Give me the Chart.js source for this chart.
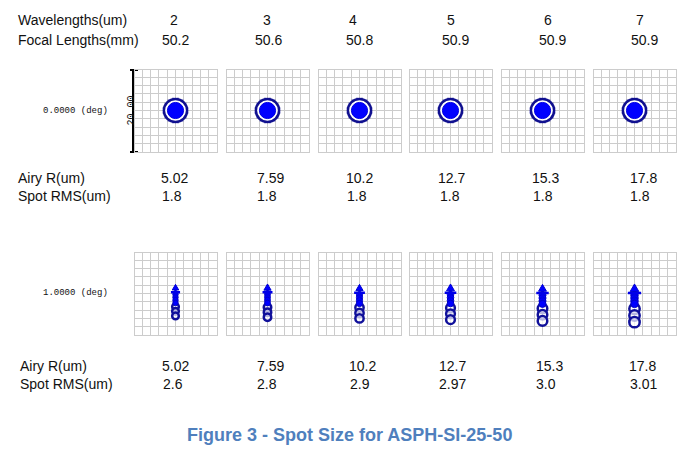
<!DOCTYPE html>
<html>
<head>
<meta charset="utf-8">
<script src="https://cdn.jsdelivr.net/npm/chart.js@4"></script>
<style>
  body { margin: 0; background: #fff; }
  #page { position: relative; width: 686px; height: 452px; overflow: hidden;
          font-family: "Liberation Sans", Arial, sans-serif; font-size: 14px; color: #111; }
  .t { position: absolute; white-space: nowrap; line-height: 14px; }
  .mono { font-family: "Liberation Mono", "DejaVu Sans Mono", monospace; font-size: 9px; color: #111; line-height: 9px; }
  canvas.spot { position: absolute; }
  #bar { position: absolute; left: 132px; top: 69px; width: 0; height: 84px; border-left: 2px solid #000; }
  #bar:before, #bar:after { content: ""; position: absolute; left: -4px; width: 8px; border-top: 2px solid #000; }
  #bar:before { top: 0; }
  #bar:after { bottom: 0; }
  #title { position: absolute; left: 187px; top: 425px; white-space: nowrap;
           font-weight: bold; font-size: 18px; color: #4f7fbd; }
</style>
</head>
<body>
<div id="page"></div>
<script>
//////////////////////////// data ////////////////////////////
const wavelengths = ['2', '3', '4', '5', '6', '7'];
const focalLengths = ['50.2', '50.6', '50.8', '50.9', '50.9', '50.9'];
const airyRadius = ['5.02', '7.59', '10.2', '12.7', '15.3', '17.8'];
const spotRmsOnAxis = ['1.8', '1.8', '1.8', '1.8', '1.8', '1.8'];
const spotRmsOffAxis = ['2.6', '2.8', '2.9', '2.97', '3.0', '3.01'];
const fieldAngles = ['0.0000 (deg)', '1.0000 (deg)'];
const boxSize = '20.00'; // um, full width of each spot box

// on-axis spot: core radius and outer ring radius (um)
const onAxisCore = [1.95, 1.95, 1.95, 1.95, 1.95, 1.95];
const onAxisRing = [2.8, 2.8, 2.8, 2.8, 2.8, 2.8];
const onAxisFuzz = [3.15, 3.15, 3.15, 3.15, 3.15, 3.15];

// off-axis spot pieces, [x, y, r] in um
const offAxisHead = [[0, 1.3, 0.9], [0, 1.3, 1.0], [0, 1.2, 1.0], [0, 1.2, 1.1], [0, 1.1, 1.1], [0, 1.1, 1.2]];
const offAxisArms = [[0, 0.3, 1.1], [0, 0.3, 1.2], [0, 0.2, 1.3], [0, 0.2, 1.4], [0, 0.1, 1.5], [0, 0.1, 1.6]];
const offAxisBody = [
  [[0, -0.2, 0.65], [0, -0.9, 0.65], [0, -1.6, 0.65], [0, -2.3, 0.65]],
  [[0, -0.2, 0.7], [0, -0.9, 0.7], [0, -1.6, 0.7], [0, -2.3, 0.7]],
  [[0, -0.3, 0.75], [0, -1.0, 0.75], [0, -1.7, 0.75], [0, -2.4, 0.75]],
  [[0, -0.3, 0.8], [0, -1.0, 0.8], [0, -1.7, 0.8], [0, -2.4, 0.8]],
  [[0, -0.4, 0.85], [0, -1.1, 0.85], [0, -1.8, 0.85], [0, -2.5, 0.85]],
  [[0, -0.4, 0.9], [0, -1.1, 0.9], [0, -1.8, 0.9], [0, -2.5, 0.9]]
];
const offAxisRings = [
  [[0, -3.2, 0.8], [0, -4.3, 0.8], [0, -5.4, 0.8]],
  [[0, -3.3, 0.9], [0, -4.5, 0.9], [0, -5.7, 0.9]],
  [[0, -3.4, 1.0], [0, -4.7, 1.0], [0, -6.0, 1.0]],
  [[0, -3.5, 1.05], [0, -4.9, 1.05], [0, -6.3, 1.05]],
  [[0, -3.6, 1.15], [0, -5.1, 1.15], [0, -6.6, 1.15]],
  [[0, -3.7, 1.25], [0, -5.3, 1.25], [0, -6.9, 1.25]]
];

//////////////////////////// layout ////////////////////////////
const page = document.getElementById('page');
const colLeft = 134, colStep = 91.8, boxPx = 85;
const rowTop = [68, 251];

function addText(str, x, y, cls) {
  const d = document.createElement('div');
  d.className = 't' + (cls ? ' ' + cls : '');
  d.textContent = str;
  d.style.left = x + 'px';
  d.style.top = y + 'px';
  page.appendChild(d);
  return d;
}

// text rows
addText('Wavelengths(um)', 18, 13);
addText('Focal Lengths(mm)', 18, 33);
addText('Airy R(um)', 18, 171);
addText('Spot RMS(um)', 18, 189);
addText('Airy R(um)', 20, 359);
addText('Spot RMS(um)', 20, 377);

const xW = [170, 263, 349, 447, 544, 636];
const xF = [162, 255, 346, 442, 539, 631];
const xA1 = [161, 257, 346, 438, 532, 630];
const xS1 = [162, 257, 347, 440, 533, 630];
const xA2 = [162, 257, 349, 439, 536, 629];
const xS2 = [163, 257, 350, 439, 536, 630];
wavelengths.forEach((w, i) => {
  addText(w, xW[i], 13);
  addText(focalLengths[i], xF[i], 33);
  addText(airyRadius[i], xA1[i], 171);
  addText(spotRmsOnAxis[i], xS1[i], 189);
  addText(airyRadius[i], xA2[i], 359);
  addText(spotRmsOffAxis[i], xS2[i], 377);
});

addText(fieldAngles[0], 43, 107, 'mono');
addText(fieldAngles[1], 43, 289, 'mono');

// scale bar
const bar = document.createElement('div');
bar.id = 'bar';
page.appendChild(bar);
const barTxt = addText(boxSize, 116, 106, 'mono');
barTxt.style.fontSize = '10px';
barTxt.style.transform = 'rotate(-90deg)';
barTxt.style.transformOrigin = 'center';

const title = document.createElement('div');
title.id = 'title';
title.textContent = 'Figure 3 - Spot Size for ASPH-SI-25-50';
page.appendChild(title);

//////////////////////////// spot charts ////////////////////////////
const umToPx = (chart, r) =>
  Math.abs(chart.scales.x.getPixelForValue(r) - chart.scales.x.getPixelForValue(0));
const radius = ctx => umToPx(ctx.chart, ctx.raw.r);
const pts = list => list.map(p => ({ x: p[0], y: p[1], r: p[2] }));

const axis = () => ({
  type: 'linear', min: -10, max: 10,
  ticks: { display: false, stepSize: 2 },
  grid: { color: '#cccccc', lineWidth: 1, drawTicks: false },
  border: { color: '#cccccc' }
});

function spotChart(left, top, datasets) {
  const c = document.createElement('canvas');
  c.width = boxPx; c.height = boxPx;
  c.className = 'spot';
  c.style.left = left + 'px';
  c.style.top = top + 'px';
  page.appendChild(c);
  new Chart(c, {
    type: 'scatter',
    data: { datasets: datasets },
    options: {
      responsive: false,
      animation: false,
      events: [],
      layout: { padding: 1 },
      plugins: { legend: { display: false }, tooltip: { enabled: false } },
      scales: { x: axis(), y: axis() }
    }
  });
}

// first dataset in each list is drawn on top
wavelengths.forEach((w, i) => {
  const left = Math.round(colLeft + colStep * i) - 1;

  // 0 deg field
  spotChart(left, rowTop[0], [
    { data: pts([[0, 0, onAxisCore[i]]]), pointRadius: radius, pointStyle: 'circle',
      backgroundColor: '#0000ff', borderColor: '#0000e0', borderWidth: 1 },
    { data: pts([[0, 0, onAxisRing[i]]]), pointRadius: radius, pointStyle: 'circle',
      backgroundColor: '#ffffff', borderColor: '#10108f', borderWidth: 2.5 },
    { data: pts([[0, 0, onAxisFuzz[i]]]), pointRadius: radius, pointStyle: 'star',
      rotation: 11, borderColor: '#1a1a9a', borderWidth: 1 },
    { data: pts([[0, 0, onAxisFuzz[i]]]), pointRadius: radius, pointStyle: 'star',
      rotation: 34, borderColor: '#1a1a9a', borderWidth: 1 }
  ]);

  // 1 deg field
  spotChart(left, rowTop[1], [
    { data: pts([offAxisHead[i]]), pointRadius: radius, pointStyle: 'triangle',
      backgroundColor: '#0000ff', borderColor: '#0000d0', borderWidth: 1 },
    { data: pts([offAxisArms[i]]), pointRadius: radius, pointStyle: 'cross',
      borderColor: '#0000e8', borderWidth: 2.5 },
    { data: pts(offAxisBody[i]), pointRadius: radius, pointStyle: 'circle',
      backgroundColor: '#0000ff', borderColor: '#0000c8', borderWidth: 1 },
    { data: pts(offAxisRings[i]), pointRadius: radius, pointStyle: 'circle',
      backgroundColor: 'rgba(255,255,255,0.7)', borderColor: '#10109a', borderWidth: 2.5 }
  ]);
});
</script>
</body>
</html>
